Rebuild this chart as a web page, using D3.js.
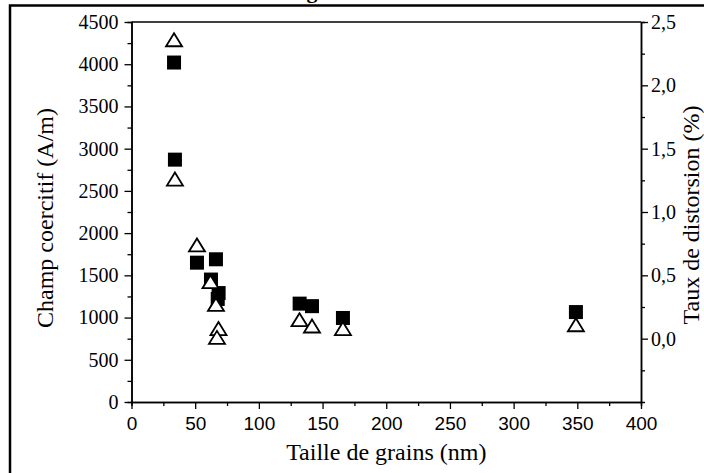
<!DOCTYPE html>
<html>
<head>
<meta charset="utf-8">
<script src="https://cdn.jsdelivr.net/npm/d3@7"></script>
<style>
  body { margin: 0; background: #fff; }
  svg { display: block; }
</style>
</head>
<body>
<div id="chart"></div>
<script>
// Grain size (nm) vs coercive field (squares, left axis) and distortion (triangles, right axis)
const sqSize  = [33.4, 34.1, 51.4, 66.3, 62.4, 68.4, 67.7, 132, 141.7, 166, 348.9];
const sqField = [4020, 2870, 1650, 1690, 1450, 1290, 1220, 1165, 1135, 995, 1065];

const trSize  = [33.4, 34.1, 51.4, 62.0, 66.3, 68.3, 67.1, 131.9, 141.7, 166, 348.9];
const trDist  = [2.36, 1.26, 0.74, 0.45, 0.27, 0.08, 0.01, 0.15, 0.10, 0.08, 0.11];

const xTicks  = [0, 50, 100, 150, 200, 250, 300, 350, 400];
const yLTicks = [0, 500, 1000, 1500, 2000, 2500, 3000, 3500, 4000, 4500];
const yRTicks = [0, 0.5, 1.0, 1.5, 2.0, 2.5];

const width = 704, height = 473;
const plot = {l: 131.5, r: 641, t: 22, b: 402};

const serif = 'Liberation Serif';
const sans  = 'Liberation Sans';

const svg = d3.select('#chart').append('svg')
  .attr('width', width)
  .attr('height', height);

// outer frame (runs off the picture on right and bottom)
svg.append('rect')
  .attr('x', 10).attr('y', 5.5)
  .attr('width', 720).attr('height', 490)
  .attr('fill', 'none').attr('stroke', '#000').attr('stroke-width', 2.5);

// title, mostly cut off by the top of the picture
const title = svg.append('text')
  .attr('y', -2)
  .attr('font-family', serif).attr('font-size', 22).attr('font-weight', 'bold')
  .text('Taille de grains');
const pre = title.node().getSubStringLength(0, 10);
const gw  = title.node().getSubStringLength(10, 1);
title.attr('x', 312 - pre - gw / 2);

const x  = d3.scaleLinear().domain([0, 400]).range([plot.l, plot.r]);
const yL = d3.scaleLinear().domain([0, 4500]).range([plot.b, plot.t]);
const yR = d3.scaleLinear().domain([-0.5, 2.5]).range([plot.b, plot.t]);

function style(g, font, size) {
  g.attr('font-family', font).attr('font-size', size);
  g.selectAll('.domain').attr('stroke-width', 1.5);
  g.selectAll('.tick line').attr('stroke-width', 1.3);
  g.selectAll('.tick text').attr('fill', '#000');
}

// minor ticks
svg.append('g')
  .attr('transform', `translate(0, ${plot.b})`)
  .call(d3.axisBottom(x).tickValues(d3.range(25, 400, 50)).tickSize(4).tickFormat(''))
  .call(g => style(g, sans, 19));
svg.append('g')
  .attr('transform', `translate(${plot.l}, 0)`)
  .call(d3.axisLeft(yL).tickValues(d3.range(250, 4500, 500)).tickSize(4).tickFormat(''))
  .call(g => style(g, serif, 20));
svg.append('g')
  .attr('transform', `translate(${plot.r}, 0)`)
  .call(d3.axisRight(yR).tickValues(d3.range(-0.25, 2.5, 0.5)).tickSize(4).tickFormat(''))
  .call(g => style(g, serif, 20));

// major ticks
svg.append('g')
  .attr('transform', `translate(0, ${plot.b})`)
  .call(d3.axisBottom(x).tickValues(xTicks).tickSize(7).tickSizeOuter(0).tickPadding(8))
  .call(g => style(g, sans, 19));
svg.append('g')
  .attr('transform', `translate(${plot.l}, 0)`)
  .call(d3.axisLeft(yL).tickValues(yLTicks).tickSize(7).tickSizeOuter(0).tickPadding(6)
    .tickFormat(d3.format('d')))
  .call(g => style(g, serif, 20));
svg.append('g')
  .attr('transform', `translate(${plot.r}, 0)`)
  .call(d3.axisRight(yR).tickValues(yRTicks).tickSize(7).tickSizeOuter(0).tickPadding(3)
    .tickFormat(d => d3.format('.1f')(d).replace('.', ',')))
  .call(g => style(g, serif, 20));

// top frame line
svg.append('line')
  .attr('x1', plot.l).attr('x2', plot.r)
  .attr('y1', plot.t).attr('y2', plot.t)
  .attr('stroke', '#000').attr('stroke-width', 1.5);

// axis titles
svg.append('text')
  .attr('transform', `translate(${x(200)}, 460)`)
  .attr('text-anchor', 'middle')
  .attr('font-family', serif).attr('font-size', 24)
  .text('Taille de grains (nm)');
svg.append('text')
  .attr('transform', 'translate(53, 218) rotate(-90)')
  .attr('text-anchor', 'middle')
  .attr('font-family', serif).attr('font-size', 24)
  .text('Champ coercitif (A/m)');
svg.append('text')
  .attr('transform', 'translate(699, 215) rotate(-90)')
  .attr('text-anchor', 'middle')
  .attr('font-family', serif).attr('font-size', 24)
  .text('Taux de distorsion (%)');

// data marks
const sq = 14;
svg.append('g').selectAll('rect')
  .data(sqSize.map((s, i) => ({x: s, y: sqField[i]})))
  .join('rect')
  .attr('x', d => x(d.x) - sq / 2)
  .attr('y', d => yL(d.y) - sq / 2)
  .attr('width', sq).attr('height', sq)
  .attr('fill', '#000');

const tri = 'M0,-6.5L8,6.5L-8,6.5Z';
svg.append('g').selectAll('path')
  .data(trSize.map((s, i) => ({x: s, y: trDist[i]})))
  .join('path')
  .attr('transform', d => `translate(${x(d.x)}, ${yR(d.y)})`)
  .attr('d', tri)
  .attr('fill', '#fff')
  .attr('stroke', '#000')
  .attr('stroke-width', 1.8);
</script>
</body>
</html>
